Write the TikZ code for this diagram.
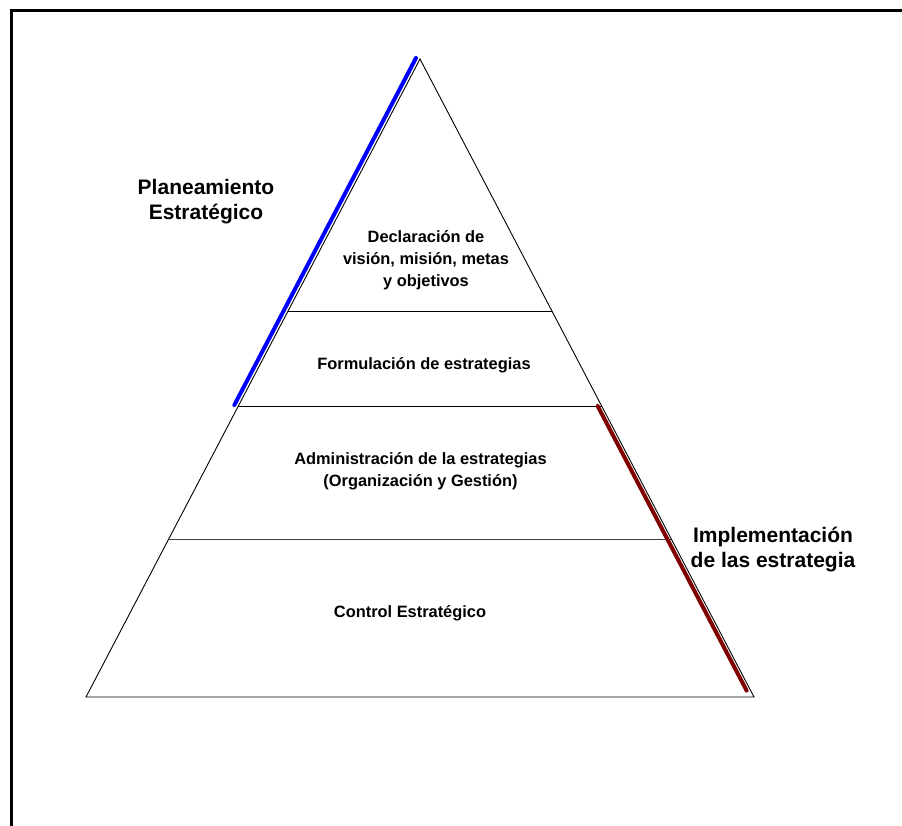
\documentclass[tikz,border=0pt]{standalone}
\usepackage{fontspec}
\setmainfont{Liberation Sans}
\usetikzlibrary{calc}
\begin{document}
\begin{tikzpicture}[x=1pt,y=-1pt,
  outline/.style={draw=black, line width=0.9pt, line join=miter},
  divider/.style={draw=black, line width=0.9pt},
  band/.style={font=\fontsize{16.4}{22}\selectfont\bfseries, align=center, inner sep=0pt},
  side/.style={font=\fontsize{21}{25}\selectfont\bfseries, align=center, inner sep=0pt},
  planbar/.style={draw={rgb,255:red,0;green,0;blue,255}, line width=4pt, line cap=round},
  implbar/.style={draw={rgb,255:red,128;green,0;blue,0}, line width=4pt, line cap=round}]
\useasboundingbox (0,0) rectangle (902,826);
\clip (0,0) rectangle (902,826);

% page frame
\draw[line width=3pt] (11,840) -- (11,11) -- (920,11);

% pyramid corners
\coordinate (apex) at (420,59);
\coordinate (bl) at (86,697);
\coordinate (br) at (754,697);
\draw[outline] (apex) -- (bl) -- (br) -- cycle;

% level dividers
\coordinate (l1) at ($(apex)!0.395!(bl)$);
\coordinate (r1) at ($(apex)!0.395!(br)$);
\coordinate (l2) at ($(apex)!0.5439!(bl)$);
\coordinate (r2) at ($(apex)!0.5439!(br)$);
\coordinate (l3) at ($(apex)!0.7524!(bl)$);
\coordinate (r3) at ($(apex)!0.7524!(br)$);
\draw[divider] (l1) -- (r1);
\draw[divider] (l2) -- (r2);
\draw[divider, draw=black!75] (l3) -- (r3);

% side bars
\coordinate (p0) at ($(apex)+(-4,-1)$);
\coordinate (p1) at ($(l2)+(-4,-1)$);
\draw[planbar] (p0) -- (p1);
\coordinate (q0) at ($(r2)+(-4,0)$);
\coordinate (q1) at ($(apex)!0.99!(br)+(-4,0)$);
\draw[implbar] (q0) -- (q1);

% level texts
\node[band] (decl) at (426,260) {Declaración de\\visión, misión, metas\\y objetivos};
\node[band] (form) at (424,365) {Formulación de estrategias};
\node[band] (admin) at (420.5,471) {Administración de la estrategias\\(Organización y Gestión)};
\node[band] (ctrl) at (410,613) {Control Estratégico};

% side labels
\node[side] (plan) at (206,202) {Planeamiento\\Estratégico};
\node[side] (impl) at (773,550) {Implementación\\de las estrategia};
\end{tikzpicture}
\end{document}
